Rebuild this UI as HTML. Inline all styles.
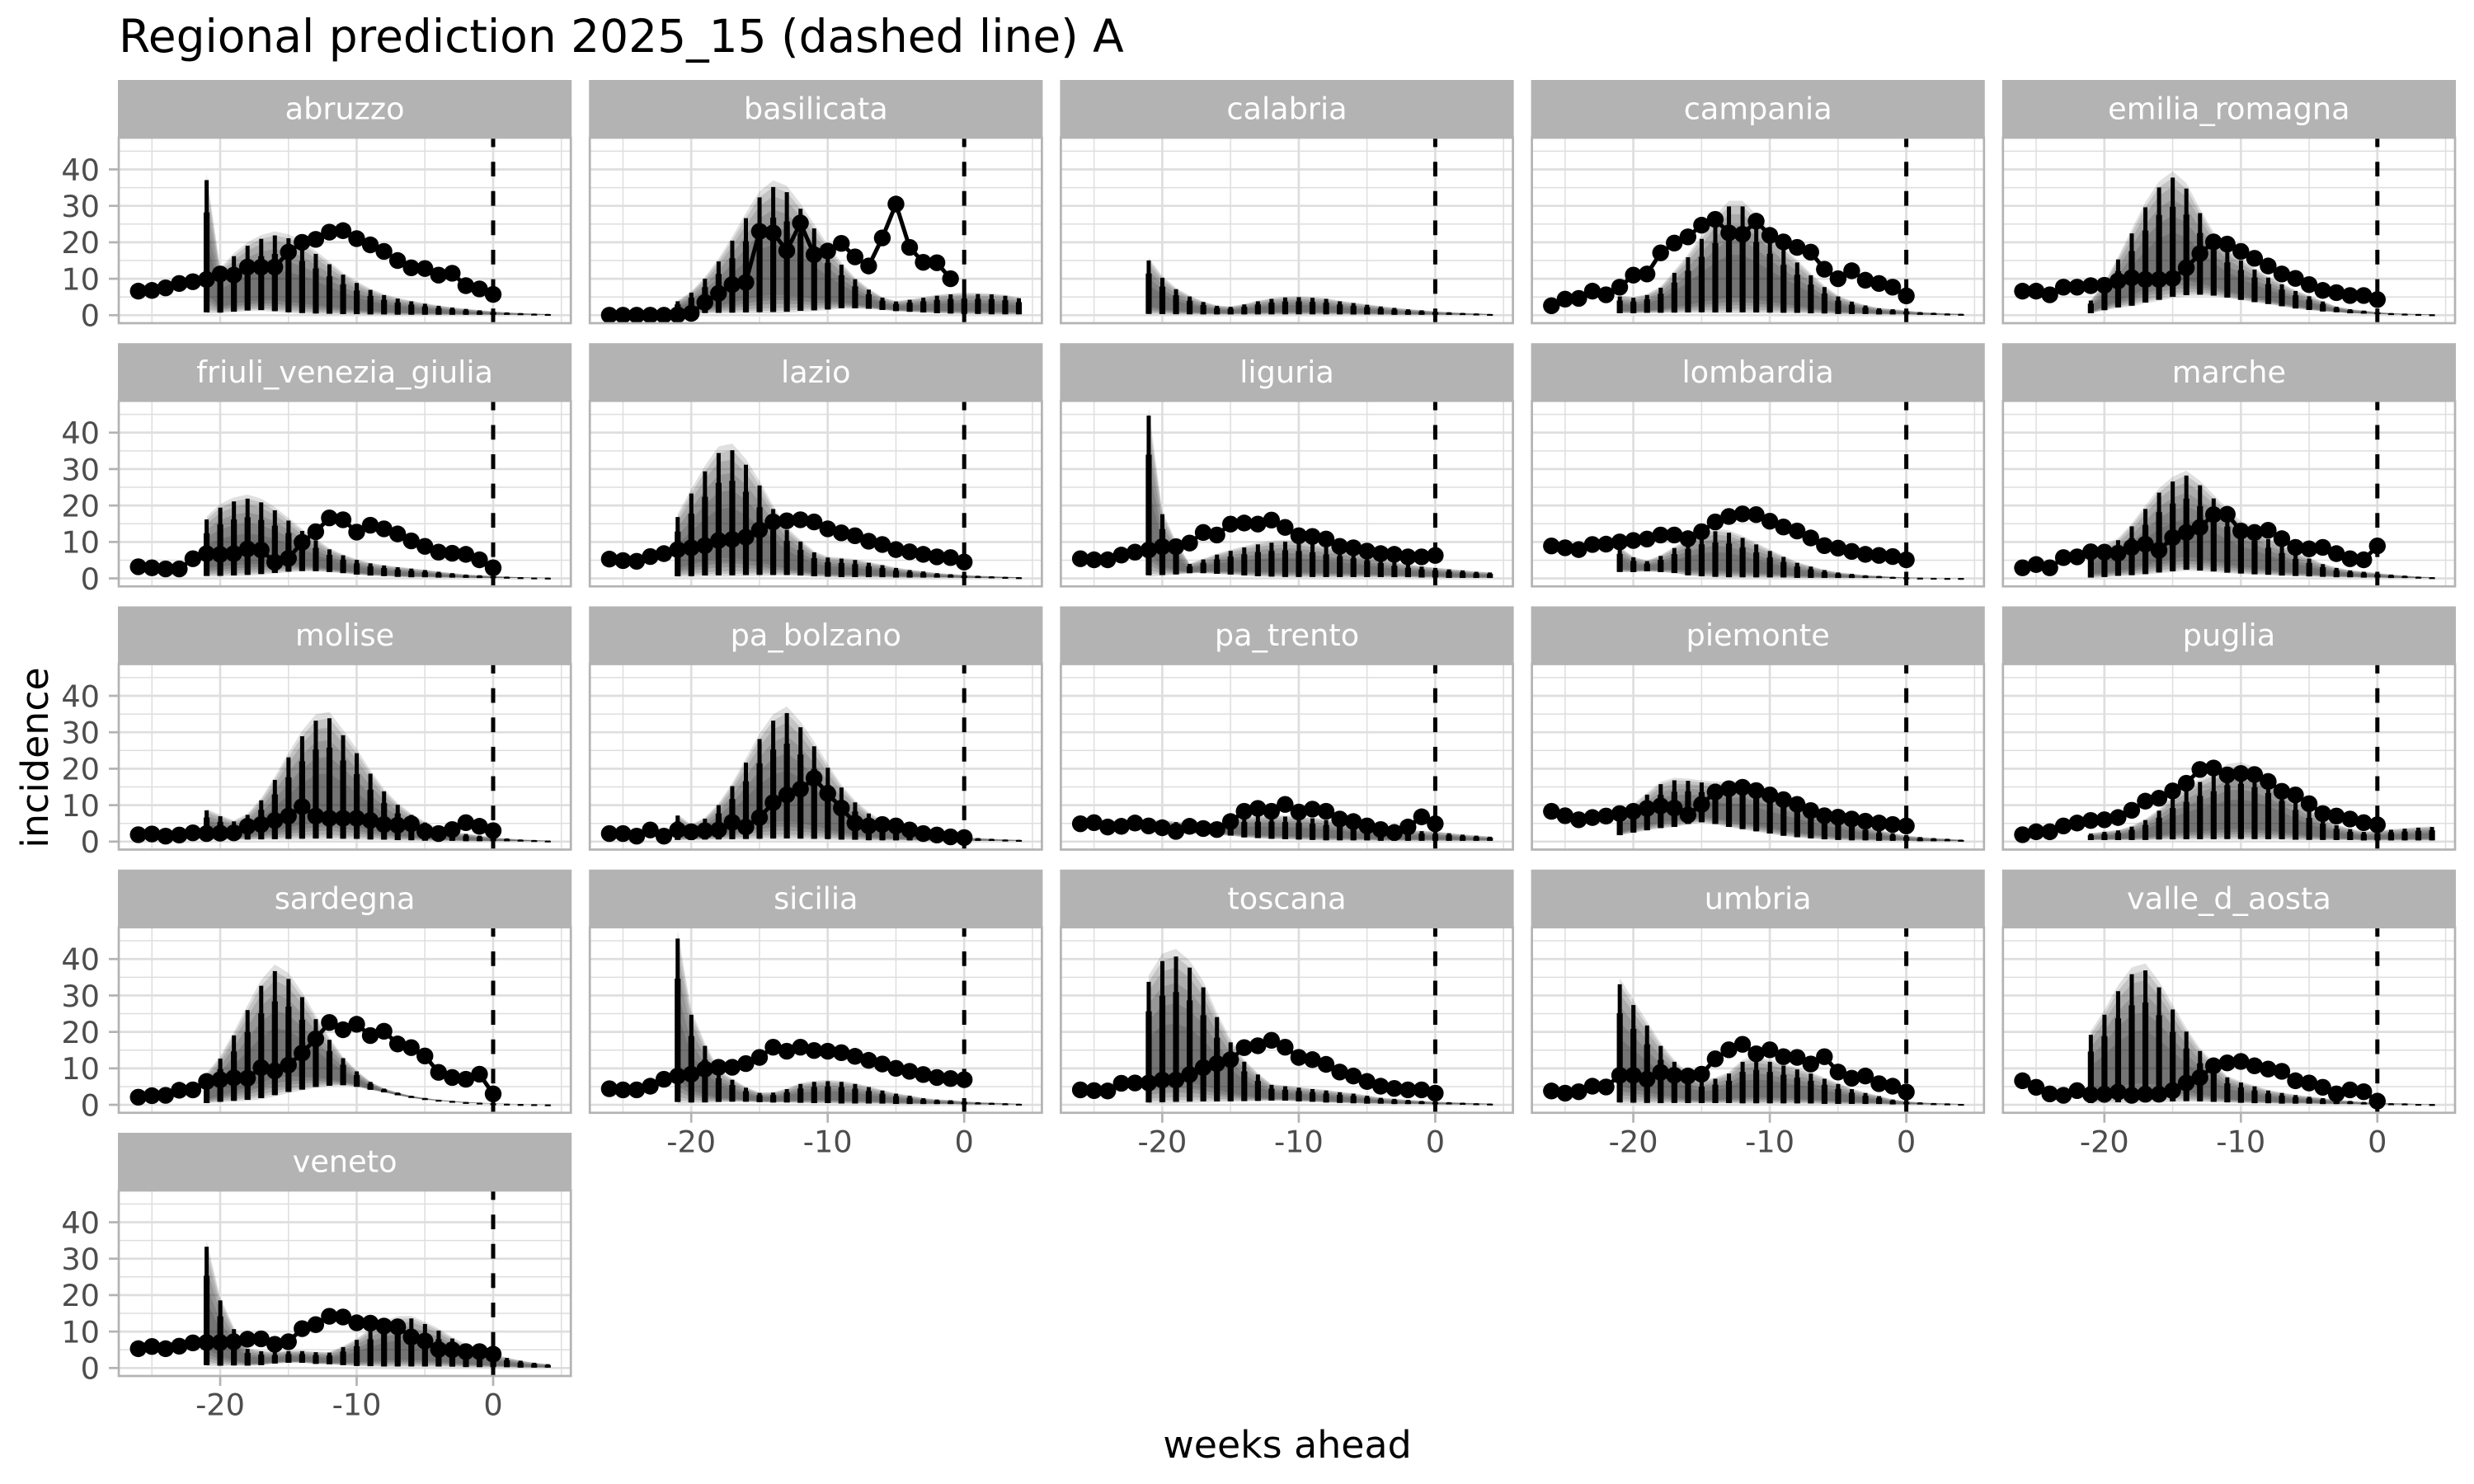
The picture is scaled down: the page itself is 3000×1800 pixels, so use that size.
<!DOCTYPE html>
<html lang="en">
<head>
<meta charset="utf-8">
<title>Regional prediction 2025_15</title>
<style>
html,body{margin:0;padding:0;background:#fff}
svg{display:block}
text{font-family:"DejaVu Sans","Liberation Sans",sans-serif}
</style>
</head>
<body>
<svg id="chart" xmlns="http://www.w3.org/2000/svg" width="3000" height="1800" viewBox="0 0 3000 1800">
<rect width="3000" height="1800" fill="#fff"/>
<text x="144" y="63" font-size="55" fill="#000">Regional prediction 2025_15 (dashed line) A</text>
<text x="1561" y="1768" font-size="45.83" fill="#000" text-anchor="middle">weeks ahead</text>
<text transform="translate(58 919) rotate(-90)" font-size="45.83" fill="#000" text-anchor="middle">incidence</text>
</svg>
<script>
const regions=["abruzzo","basilicata","calabria","campania","emilia_romagna","friuli_venezia_giulia","lazio","liguria","lombardia","marche","molise","pa_bolzano","pa_trento","piemonte","puglia","sardegna","sicilia","toscana","umbria","valle_d_aosta","veneto"];
const obsWeeks=[-26,-25,-24,-23,-22,-21,-20,-19,-18,-17,-16,-15,-14,-13,-12,-11,-10,-9,-8,-7,-6,-5,-4,-3,-2,-1,0];
const forecastWeeks=[-21,-20,-19,-18,-17,-16,-15,-14,-13,-12,-11,-10,-9,-8,-7,-6,-5,-4,-3,-2,-1,0,1,2,3,4];
const xTicks=[-20,-10,0];
const yTicks=[0,10,20,30,40];
const xMinorGrid=[-25,-15,-5,5];
const yMinorGrid=[5,15,25,35,45];
const forecastOriginWeek=[0];

const obsAbruzzo=[6.6,6.8,7.5,8.7,9.2,9.8,11.3,11,13.2,13.2,13.2,17.3,20,20.8,22.8,23.2,21,19.3,17.5,15,13,12.8,11,11.5,8.1,7.2,5.7];
const hiAbruzzo=[39,13,17,20,22,23,22.2,20.5,17.7,14.7,11.7,9.3,7.3,5.8,4.8,4,3.3,2.7,2.2,1.8,1.4,1.1,.8,.6,.45,.35];
const loAbruzzo=[.4,.6,.8,1.1,1.2,.9,.6,.4,.3,.25,.2,.2,.15,.15,.1,.1,.1,.1,.1,.1,.1,.1,.1,.1,.1,.1];

const obsBasilicata=[0,0,0,0,0,.1,.5,3.5,6,8.4,9,23,22.6,17.7,25.3,16.6,17.6,19.7,16,13.5,21.2,30.5,18.6,14.5,14.4,10];
const hiBasilicata=[4,6.5,10.5,15.5,21.5,28,34,37,35.5,30.7,25,19.4,14.5,10.3,7.3,5,3.9,4.4,5,5.6,6,6.2,6.1,6,5.6,4.9];
const loBasilicata=[.3,.4,.5,.5,.5,.5,.5,.5,.6,.9,1.1,1.4,1.8,1.8,1.7,1.4,1.1,.9,.7,.5,.4,.3,.3,.2,.2,.2];

const obsCalabria=[];
const hiCalabria=[15.8,10.8,7.5,5.4,3.8,2.7,2.4,3.1,4,4.7,5.1,5.2,5,4.7,4,3.5,3,2.5,2.1,1.7,1.4,1.1,.85,.65,.5,.35];
const loCalabria=[.2,.2,.2,.2,.2,.2,.2,.2,.2,.2,.2,.2,.2,.2,.2,.15,.15,.15,.1,.1,.1,.1,.1,.1,.1,.1];

const obsCampania=[2.6,4.4,4.6,6.6,5.6,7.7,11,11.3,17.1,19.8,21.5,24.7,26.3,22.6,22.2,25.8,21.9,20.1,18.6,17.3,12.6,10,12.2,9.6,8.7,7.7,5.3];
const hiCampania=[5.4,5,5.8,7.9,12.2,16.7,22,27.3,31.4,31.4,27.7,23.2,19,15.2,11.5,8.1,5.4,3.9,2.8,2,1.7,1.3,.9,.7,.5,.4];
const loCampania=[.5,.5,.6,.6,.6,.6,.6,.5,.5,.5,.5,.5,.5,.5,.4,.4,.3,.3,.3,.2,.2,.2,.1,.1,.1,.1];

const obsEmilia=[6.6,6.6,5.6,7.7,7.7,8.1,8.2,9.4,10.3,9.8,9.8,10.1,13,16.9,20.1,19.5,17.5,15.6,13.5,11.3,10.1,8.4,6.8,6.2,5.4,5.4,4.3];
const hiEmilia=[4.2,9,16,23.5,31,36.7,39.5,36.3,29.2,22.8,18.3,15.6,13,10.7,8.8,6.9,5.4,3.9,2.4,1.7,1.3,.9,.6,.45,.35,.25];
const loEmilia=[.5,1.3,2,2.4,3.2,3.9,4.7,5.2,5.4,5.2,4.7,4.1,3.5,3,2.4,1.8,1.4,1,.8,.5,.4,.3,.2,.15,.1,.1];

const obsFriuli=[3.2,2.9,2.6,2.6,5.4,6.8,6.6,6.8,8.1,7.8,4.4,5.5,9.9,12.8,16.6,16.1,12.7,14.6,13.6,12.2,10.3,8.8,7.2,6.9,6.6,5.1,2.9];
const hiFriuli=[17,20.4,22.2,23,21.9,19.6,16.6,13.6,10.9,8.3,6.6,5.3,4.3,3.7,3.2,2.8,2.4,1.9,1.5,1.1,.9,.7,.5,.35,.25,.2];
const loFriuli=[.5,.5,.6,.75,1,1.3,1.7,1.9,1.9,1.7,1.4,1,.75,.6,.4,.3,.3,.2,.2,.15,.1,.1,.1,.1,.1,.1];

const obsLazio=[5.3,4.9,4.7,6,6.8,7.9,8.4,9,10.4,10.7,11.3,13.3,15.5,15.8,16.1,15.5,13.6,12.5,11.7,10.2,9.3,7.9,7.3,6.6,5.9,5.7,4.5];
const hiLazio=[17.7,24.5,30.9,36.2,37,32.8,26.8,20,14,10.6,7.5,6,5.7,5.3,4.5,3.8,3,2.4,2,1.5,1.2,1,.75,.6,.45,.35];
const loLazio=[.4,.4,.5,.5,.5,.6,.7,.75,.8,.7,.5,.4,.3,.3,.3,.3,.2,.2,.2,.2,.2,.1,.1,.1,.1,.1];

const obsLiguria=[5.4,5.1,5.1,6.4,7.2,7.8,8.7,8.7,9.7,12.6,11.9,14.9,15.2,14.9,16,14,11.7,11.5,10.8,8.8,8.4,7.5,6.8,6.6,5.9,5.9,6.3];
const hiLiguria=[47,18.5,10.2,4.1,5.4,6.8,7.9,8.9,9.8,10.3,10.6,10.3,9.8,9,8.3,7.5,6.6,5.7,4.7,3.9,3.4,3,2.6,2.3,1.9,1.7];
const loLiguria=[.4,.75,1,1.4,1.4,1.2,1,.75,.5,.4,.3,.3,.3,.3,.3,.3,.3,.3,.3,.3,.2,.2,.1,.1,.1,.1];

const obsLombardia=[8.9,8.4,7.9,9.3,9.4,10,10.4,10.8,11.9,11.9,10.9,12.8,15.5,17,17.7,17.5,15.7,14.1,13,11.1,9,8.3,7.4,6.6,6.3,6,5.1];
const hiLombardia=[8.7,6,4.9,6.4,8.7,10.9,12.8,13.6,13.2,11.7,9.8,7.9,6.2,4.5,3.4,2.4,1.7,1.3,.9,.7,.45,.3,.2,.15,.1,.1];
const loLombardia=[1.7,1.7,1.9,1.7,1.4,.75,.45,.3,.2,.2,.2,.2,.2,.1,.1,.1,.1,.1,.1,.1,.1,.05,.05,.05,.05,.05];

const obsMarche=[2.9,3.8,2.9,5.7,5.9,7.3,7.2,6.9,8.5,9.4,7.7,11.2,12.6,14,17.5,17.6,13,12.6,13.2,10.9,8.5,8.1,8.5,6.8,5.4,5.1,8.9];
const hiMarche=[8,9.4,11,15,20,24.7,27.9,29.6,26.8,23,19.2,15.8,14,11.3,9.4,7.2,5.7,4.1,3,2.3,1.9,1.5,1.1,.8,.5,.35];
const loMarche=[.15,.3,.6,.75,1,1.4,1.7,2.1,1.9,1.7,1.4,1.2,1,.9,.7,.6,.5,.4,.3,.3,.2,.2,.1,.1,.1,.1];

const obsMolise=[1.9,2.1,1.5,1.8,2.4,2.2,2.3,2.4,4.2,4.7,5.8,7,9.6,7,6.4,6.4,6.4,5.8,4.7,4.5,4.9,2.8,2.2,3.3,5.2,4.2,3];
const hiMolise=[9,7.3,5.8,7.7,11.9,17.8,24.3,30.4,34.9,35.6,30.7,25.5,19.6,14.5,10.6,7.7,5.5,3.6,2.7,2.2,1.7,1.2,.9,.6,.45,.3];
const loMolise=[.4,.4,.5,.5,.5,.5,.5,.5,.5,.5,.5,.5,.4,.4,.3,.3,.2,.2,.2,.1,.1,.1,.1,.1,.1,.1];

const obsBolzano=[2.2,2.2,1.5,3.2,1.5,3.2,2.7,3,3.2,5.3,4,6.6,10.7,12.8,14.4,17.4,13.2,9.2,5.1,4.3,4.7,4.3,3.2,2.2,1.8,1.3,1.1];
const hiBolzano=[7.5,4.7,6.6,10.5,16,22.8,29.6,34.9,37.1,33,27.5,21.3,15.6,11.3,8.1,5.8,4.3,3.2,2.4,1.9,1.5,1.2,1,.8,.6,.5];
const loBolzano=[.4,.4,.5,.5,.5,.5,.5,.5,.5,.5,.5,.5,.4,.4,.3,.3,.3,.3,.2,.2,.2,.2,.2,.2,.2,.2];

const obsTrento=[4.9,5.2,4,4.2,5.1,4.3,3.8,2.8,4.2,3.6,3.3,5.5,8.3,9.1,8.3,10.2,8.1,8.9,8.3,6.2,5.5,4.3,3.3,2.5,4,6.8,4.9];
const hiTrento=[6,5.9,5.5,5.2,5,5.2,6,7,7.2,7.3,7.2,7,6.7,6.2,5.5,4.7,3.9,3.6,3.3,3.2,3,2.8,2.4,2,1.7,1.4];
const loTrento=[2.5,2.5,2.4,2.2,2,1.8,1.6,1.1,.9,.7,.6,.5,.4,.3,.3,.3,.3,.2,.2,.2,.2,.2,.2,.2,.2,.2];

const obsPiemonte=[8.3,7.1,6,6.6,7,7.7,8.3,9.1,9.8,9.2,7.3,10.2,13.6,14.5,14.9,14,12.8,11.5,10.2,8.5,7.1,6.7,6.2,5.6,5.1,4.7,4.3];
const hiPiemonte=[7.7,10.4,13.4,16.4,17.5,17.3,16.8,16.5,16.5,16.8,15.6,14.1,12.6,11.1,9.6,8.1,6.6,5.5,4.3,3.2,2.4,1.7,1.3,1,.8,.55];
const loPiemonte=[1.7,2.4,3,3.6,3.9,4.7,5.2,4.7,3.9,3.3,2.7,2.1,1.5,1.1,.8,.55,.4,.3,.3,.2,.2,.2,.1,.1,.1,.1];

const obsPuglia=[1.9,2.7,2.7,4.3,5.1,5.8,6,6.6,8.6,11.1,11.9,13.9,16,19.8,20.2,18.3,18.7,18.4,16.5,13.8,12.8,10.4,7.7,7,6.2,5.2,4.6];
const hiPuglia=[2.3,2.8,3.2,4.3,6.2,8.9,12.6,14.9,17.2,19,21.3,21.8,20.5,18.3,15.3,11.9,8.9,6.6,4.7,3.6,2.8,3,3.4,3.7,4,4.2];
const loPuglia=[.4,.4,.4,.4,.4,.5,.5,.5,.5,.5,.5,.5,.5,.5,.5,.4,.4,.4,.4,.4,.3,.3,.3,.3,.3,.3];

const obsSardegna=[2.1,2.5,2.6,4,4.1,6.4,6.9,7.4,7.3,10.2,9.3,10.9,14.2,18.1,22.6,20.6,22.1,19,20.2,16.7,15.7,13.4,8.9,7.5,7,8.4,3];
const hiSardegna=[8.7,13.3,20,27.3,34.3,38.5,36.2,30.9,24.5,18.5,13.2,9.4,6.4,4.5,3.4,2.5,1.9,1.4,1.1,.8,.6,.4,.3,.2,.15,.1];
const loSardegna=[.4,.7,.9,1.1,1.5,2.3,3.2,3.9,4.7,5.1,5.3,4.9,4.1,3.4,2.6,1.9,1.4,1.1,.8,.5,.4,.3,.2,.15,.1,.05];

const obsSicilia=[4.4,4.1,4.1,5.1,7,7.9,8.4,9.8,10.3,10.3,11.3,13,15.8,14.7,15.8,14.9,14.7,14.3,13.3,12.2,11.2,10,9.2,8.3,7.5,7.2,6.9];
const hiSicilia=[48,26,17,9.8,7.2,4.9,3.4,3.5,4.5,6,6.6,6.8,6.6,6,5.1,4.1,3.2,2.6,1.9,1.5,1.3,1,.75,.6,.45,.3];
const loSicilia=[.3,.4,.5,.7,.8,.8,.7,.6,.6,.5,.4,.4,.3,.3,.3,.3,.2,.2,.2,.2,.2,.1,.1,.1,.1,.1];

const obsToscana=[4.1,3.9,3.8,5.9,6,6,6.8,6.8,8.3,10.2,11.3,12.4,15.7,16.2,17.7,15.8,13,12.4,11.1,9,7.9,6.4,5.1,4.5,4.1,4.1,3.2];
const hiToscana=[35.5,41.5,42.8,39.6,33.9,25.3,18,12.4,8.7,5.7,5.3,4.9,4.5,4.1,3.6,3.2,2.6,2,1.7,1.4,1.1,.9,.75,.6,.45,.35];
const loToscana=[.3,.3,.4,.5,.6,.7,.8,.9,1,1.1,1.1,.9,.8,.6,.5,.4,.3,.3,.2,.2,.2,.1,.1,.1,.1,.1];

const obsUmbria=[3.8,3.2,3.6,5.1,4.9,8.1,8.1,7,8.9,8.1,7.9,8.4,12.6,15.1,16.6,14,15.1,13.2,13,11.2,13.2,9,7.3,7.9,5.8,5.1,3.5];
const hiUmbria=[34.8,28.8,22.9,17,12.4,8.7,6.8,7.5,9,12.4,13.2,12.4,11.3,10.2,9,7.5,6,4.5,3.4,2.5,1.5,1,.7,.5,.4,.25];
const loUmbria=[.3,.3,.3,.3,.4,.4,.4,.4,.4,.3,.3,.3,.3,.3,.3,.2,.2,.2,.2,.2,.1,.1,.1,.1,.1,.1];

const obsValle=[6.6,4.8,3,2.6,3.9,2.8,2.9,3.5,2.6,2.9,2.9,3.9,6,7.5,10.7,11.5,11.9,10.7,9.8,9.2,6.6,6,4.8,3,4.1,3.6,1];
const hiValle=[20.2,26,32.8,37.7,38.8,33.9,27.5,21.1,15.5,11.7,7.9,6.4,5.3,4.1,3.4,2.8,2.3,1.9,1.4,1.1,.8,.6,.45,.4,.25,.2];
const loValle=[.3,.4,.4,.5,.5,.6,.7,.8,.8,.7,.6,.5,.4,.4,.3,.3,.3,.2,.2,.2,.1,.1,.1,.1,.1,.1];

const obsVeneto=[5.3,5.9,5.3,6,6.9,7,7,7.2,7.9,8,6.5,7.2,10.8,11.9,14.2,14,12.4,12.3,11.5,11.3,8.5,7.4,5.1,5,4.5,4.5,3.8];
const hiVeneto=[35,19.5,11.2,5.5,4.8,4.5,4.8,4.8,4.5,4.4,6,8.1,10.8,13,14.2,14.3,12.7,10.8,8.5,6.6,5.1,4,2.9,2.1,1.5,1.1];
const loVeneto=[.45,.45,.6,.6,.75,1.2,1.4,1.4,1.1,1,.75,.5,.4,.3,.3,.3,.3,.3,.3,.2,.2,.2,.2,.1,.1,.1];

const obsSeries=[obsAbruzzo,obsBasilicata,obsCalabria,obsCampania,obsEmilia,obsFriuli,obsLazio,obsLiguria,obsLombardia,obsMarche,obsMolise,obsBolzano,obsTrento,obsPiemonte,obsPuglia,obsSardegna,obsSicilia,obsToscana,obsUmbria,obsValle,obsVeneto];
const hiSeries=[hiAbruzzo,hiBasilicata,hiCalabria,hiCampania,hiEmilia,hiFriuli,hiLazio,hiLiguria,hiLombardia,hiMarche,hiMolise,hiBolzano,hiTrento,hiPiemonte,hiPuglia,hiSardegna,hiSicilia,hiToscana,hiUmbria,hiValle,hiVeneto];
const loSeries=[loAbruzzo,loBasilicata,loCalabria,loCampania,loEmilia,loFriuli,loLazio,loLiguria,loLombardia,loMarche,loMolise,loBolzano,loTrento,loPiemonte,loPuglia,loSardegna,loSicilia,loToscana,loUmbria,loValle,loVeneto];

const NS='http://www.w3.org/2000/svg';
const chart=document.getElementById('chart');
const PANEL_W=548.2, COL_PITCH=571.2, LEFT0=144;
const ROW_PITCH=319.25, BOTTOM0=392, PANEL_H=225, STRIP_H=70;
const WEEK_PX=16.55, ZERO_OFFSET=454, UNIT_PX=4.42, BASE_OFFSET=9.7;
const bandLow=[0,.02,.04,.07,.1,.14];
const bandHigh=[1,.95,.88,.78,.65,.52];

function colLeft(c){return LEFT0+c*COL_PITCH;}
function rowBottom(r){return BOTTOM0+r*ROW_PITCH;}
function xPos(c,wk){return colLeft(c)+ZERO_OFFSET+wk*WEEK_PX;}
function yPos(r,v){return rowBottom(r)-BASE_OFFSET-v*UNIT_PX;}
function mk(tag,attrs,parent){
  const el=document.createElementNS(NS,tag);
  for(const k in attrs){el.setAttribute(k,attrs[k]);}
  parent.appendChild(el);
  return el;
}
function f(n){return n.toFixed(2);}

regions.forEach(function(name,i){
  const c=i%5, r=Math.floor(i/5);
  const left=colLeft(c), bottom=rowBottom(r), top=bottom-PANEL_H, right=left+PANEL_W;
  const g=mk('g',{},chart);
  
  

  const strip=mk('rect',{x:left-1,y:top-STRIP_H,width:PANEL_W+2,height:STRIP_H+1,fill:'#B3B3B3'},g);
  
  
  const stripText=mk('text',{x:left+PANEL_W/2,y:top-22.5,'font-size':36.67,fill:'#fff','text-anchor':'middle'},g);
  
  
  stripText.textContent=name;

  xMinorGrid.forEach(function(w){
    const gl=mk('line',{x1:xPos(c,w),x2:xPos(c,w),y1:top,y2:bottom,stroke:'#DEDEDE','stroke-width':1.5},g);
    
    
  });
  yMinorGrid.forEach(function(v){
    const gl=mk('line',{x1:left,x2:right,y1:yPos(r,v),y2:yPos(r,v),stroke:'#DEDEDE','stroke-width':1.5},g);
    
    
  });
  xTicks.forEach(function(w){
    const gl=mk('line',{x1:xPos(c,w),x2:xPos(c,w),y1:top,y2:bottom,stroke:'#DEDEDE','stroke-width':2.7},g);
    
    
  });
  yTicks.forEach(function(v){
    const gl=mk('line',{x1:left,x2:right,y1:yPos(r,v),y2:yPos(r,v),stroke:'#DEDEDE','stroke-width':2.7},g);
    
    
  });

  const hi=hiSeries[i], lo=loSeries[i], obs=obsSeries[i];

  bandLow.forEach(function(fl,b){
    const fh=bandHigh[b];
    let up='', down='';
    forecastWeeks.forEach(function(w,k){
      const span=hi[k]-lo[k];
      up+=f(xPos(c,w))+','+f(yPos(r,lo[k]+span*fh))+' ';
    });
    for(let k=forecastWeeks.length-1;k>=0;k--){
      const span=hi[k]-lo[k];
      down+=f(xPos(c,forecastWeeks[k]))+','+f(yPos(r,lo[k]+span*fl))+' ';
    }
    const band=mk('polygon',{points:up+down,fill:'#000','fill-opacity':.12},g);
    
    
  });

  forecastWeeks.forEach(function(w,k){
    const span=hi[k]-lo[k];
    const x=xPos(c,w);
    const yTop=yPos(r,lo[k]+span*.95), yMid=yPos(r,lo[k]+span*.72), yBot=yPos(r,lo[k]+span*.01);
    const thin=mk('rect',{x:f(x-2.4),y:f(yTop),width:5,height:f(Math.max(yBot-yTop,2)),fill:'#000'},g);
    
    
    const thick=mk('rect',{x:f(x-3.5),y:f(yMid),width:7.2,height:f(Math.max(yBot-yMid,2)),fill:'#000'},g);
    
    
  });

  forecastOriginWeek.forEach(function(w){
    const vl=mk('line',{x1:xPos(c,w),x2:xPos(c,w),y1:bottom,y2:top,stroke:'#000','stroke-width':5,'stroke-dasharray':'17.8 17.8'},g);
    
    
  });

  if(obs.length){
    let pts='';
    obs.forEach(function(v,k){pts+=f(xPos(c,obsWeeks[k]))+','+f(yPos(r,v))+' ';});
    const line=mk('polyline',{points:pts,fill:'none',stroke:'#000','stroke-width':5,'stroke-linejoin':'round'},g);
    
    
    obs.forEach(function(v,k){
      const pt=mk('circle',{cx:f(xPos(c,obsWeeks[k])),cy:f(yPos(r,v)),r:10.2,fill:'#000'},g);
      
      
    });
  }

  const border=mk('rect',{x:left,y:top,width:PANEL_W,height:PANEL_H,fill:'none',stroke:'#B3B3B3','stroke-width':2.7},g);
  
  

  if(c===0){
    yTicks.forEach(function(v){
      const t=mk('line',{x1:left-12,x2:left,y1:yPos(r,v),y2:yPos(r,v),stroke:'#B3B3B3','stroke-width':2.7},g);
      
      
      const lab=mk('text',{x:left-23,y:yPos(r,v)+13.3,'font-size':36.67,fill:'#4D4D4D','text-anchor':'end'},g);
      
      
      lab.textContent=String(v);
    });
  }
  if(i+5>=regions.length){
    xTicks.forEach(function(w){
      const t=mk('line',{x1:xPos(c,w),x2:xPos(c,w),y1:bottom,y2:bottom+12,stroke:'#B3B3B3','stroke-width':2.7},g);
      
      
      const lab=mk('text',{x:xPos(c,w),y:bottom+47.7,'font-size':36.67,fill:'#4D4D4D','text-anchor':'middle'},g);
      
      
      lab.textContent=String(w);
    });
  }
});
</script>
</body>
</html>
